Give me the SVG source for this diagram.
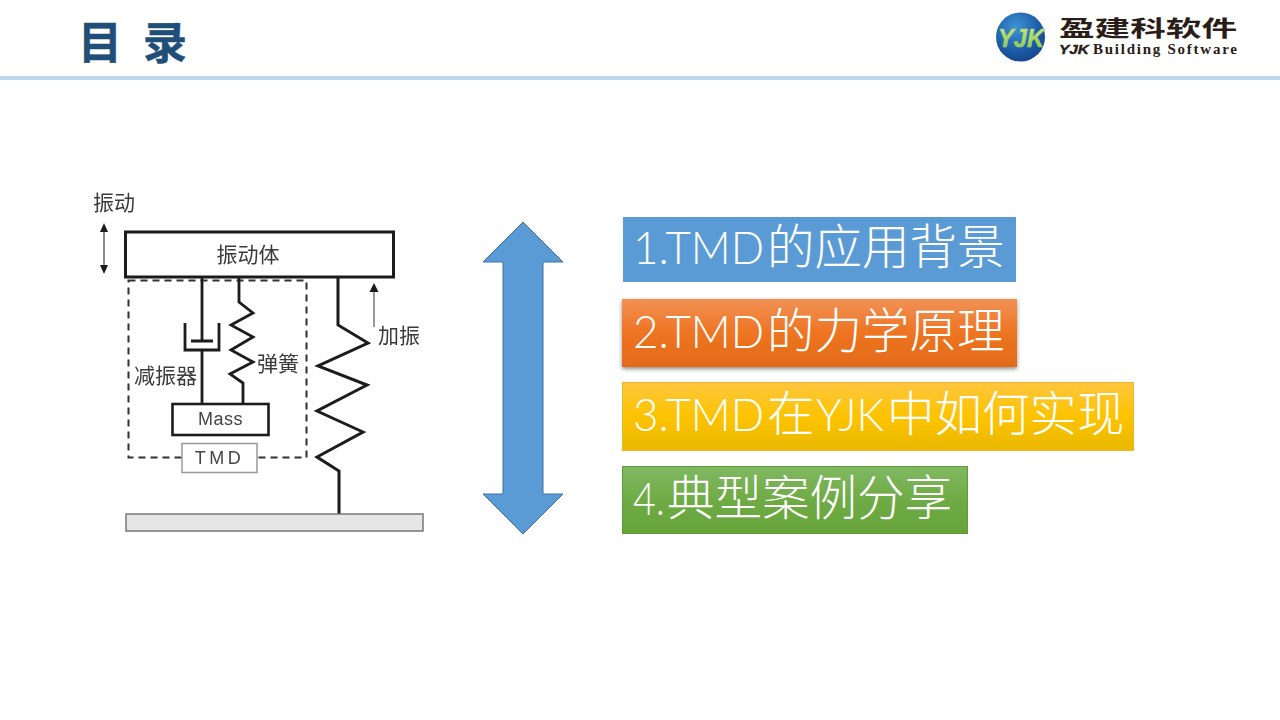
<svg xmlns="http://www.w3.org/2000/svg" width="1280" height="720" viewBox="0 0 1280 720">
<style>
text{font-family:"Liberation Sans","Noto Sans CJK SC",sans-serif}
.cjk{font-family:"Noto Sans CJK SC",sans-serif}
.serif{font-family:"Liberation Serif",serif}
.item{font-family:"Lato","Noto Sans CJK SC",sans-serif;font-weight:300;font-size:47.5px;fill:#fff}
.lat{font-size:46px}
.lbl{font-family:"Noto Sans CJK SC",sans-serif;font-size:21px;fill:#3a3a3a}
.k{fill:none;stroke:#1c1c1c;stroke-width:3;stroke-linejoin:miter}
.t{fill:none;stroke:#1c1c1c;stroke-width:2.800}
.d{fill:none;stroke:#333;stroke-width:2;stroke-dasharray:7 5}
</style>
<defs>
<linearGradient id="or" x1="0" y1="0" x2="0" y2="1"><stop offset="0" stop-color="#f19156"/><stop offset=".5" stop-color="#ee7421"/><stop offset="1" stop-color="#e26b19"/></linearGradient>
<linearGradient id="ye" x1="0" y1="0" x2="0" y2="1"><stop offset="0" stop-color="#fec63f"/><stop offset=".5" stop-color="#fdc300"/><stop offset="1" stop-color="#e9b800"/></linearGradient>
<linearGradient id="gr" x1="0" y1="0" x2="0" y2="1"><stop offset="0" stop-color="#81b862"/><stop offset=".5" stop-color="#6fab45"/><stop offset="1" stop-color="#66a43a"/></linearGradient>
<linearGradient id="yjk" x1="0" y1="0" x2="0" y2="1"><stop offset="0" stop-color="#d6e99b"/><stop offset="1" stop-color="#7fc241"/></linearGradient>
<radialGradient id="ball" cx=".4" cy=".3" r=".8"><stop offset="0" stop-color="#3f93d6"/><stop offset=".6" stop-color="#1b5ca8"/><stop offset="1" stop-color="#123f80"/></radialGradient>
<filter id="sh" x="-5%" y="-10%" width="110%" height="125%"><feDropShadow dx="0" dy="2" stdDeviation="2" flood-color="#000" flood-opacity=".45"/></filter>
<filter id="soft" x="-5%" y="-5%" width="110%" height="110%"><feGaussianBlur stdDeviation=".55"/></filter>
</defs>
<rect width="1280" height="720" fill="#fff"/>
<g id="header">
<text x="78" y="59" class="cjk" font-size="44" font-weight="700" fill="#1f4e79" stroke="#1f4e79" stroke-width=".5">目</text>
<text x="143" y="59" class="cjk" font-size="44" font-weight="700" fill="#1f4e79" stroke="#1f4e79" stroke-width=".5">录</text>
<rect x="0" y="76" width="1280" height="4" fill="#bdd7ee"/>
</g>
<g id="logo">
<circle cx="1020.500" cy="37" r="24.500" fill="url(#ball)"/>
<text x="998" y="47" font-size="26" font-weight="700" font-style="italic" fill="url(#yjk)" stroke="#a9d65c" stroke-width=".6" textLength="46" lengthAdjust="spacingAndGlyphs">YJK</text>
<text x="1059" y="36" class="cjk" font-size="22" font-weight="700" fill="#2a1c17" textLength="178" lengthAdjust="spacingAndGlyphs">盈建科软件</text>
<text x="1059" y="54" font-size="13" font-weight="700" font-style="italic" fill="#2a1c17" stroke="#2a1c17" stroke-width=".4" textLength="30" lengthAdjust="spacingAndGlyphs">YJK</text>
<text x="1093" y="54" class="serif" font-size="15" font-weight="700" fill="#2a1c17" textLength="144">Building Software</text>
</g>
<g id="tmd-figure" filter="url(#soft)">
<rect x="125.500" y="232" width="268" height="45" fill="#fff" stroke="#1c1c1c" stroke-width="3"/>
<text x="248" y="262" class="lbl" text-anchor="middle">振动体</text>
<text x="93" y="210" class="lbl">振动</text>
<text x="378" y="343" class="lbl">加振</text>
<text x="134" y="383" class="lbl">减振器</text>
<text x="257" y="371" class="lbl">弹簧</text>
<path d="M104 230V267" stroke="#666" stroke-width="1.500" fill="none"/>
<path d="M104 223l-4 9h8zM104 274l-4-9h8z" fill="#1c1c1c"/>
<path d="M374 290V327" stroke="#777" stroke-width="1.500" fill="none"/>
<path d="M374 283l-4.500 9h9z" fill="#1c1c1c"/>
<rect x="128.500" y="280.500" width="178" height="177" class="d"/>
<path d="M202 277V341M202 350V404M185 323V350H219V323M191 341H213" class="t"/>
<path d="M239 277V302L253 313L231 325L253 337L231 350L253 362L230 374L243 383V404" class="t"/>
<rect x="172.500" y="404" width="96" height="31" fill="#fff" stroke="#1c1c1c" stroke-width="2.600"/>
<text x="220.500" y="425" text-anchor="middle" font-size="18" fill="#444" letter-spacing=".5">Mass</text>
<rect x="182" y="443.500" width="75" height="29" fill="#fff" stroke="#999" stroke-width="1.500"/>
<text x="219.500" y="464" text-anchor="middle" font-size="18" fill="#444" letter-spacing="3.500">TMD</text>
<path d="M338 277V325L368 343L318 366L367 385L317 411L363 432L317 457L339 471V514" class="k"/>
<rect x="126" y="514" width="297" height="17" fill="#e6e6e6" stroke="#777" stroke-width="1.500"/>
</g>
<g id="double-arrow">
<path d="M523 222L563 262H543V494H563L523 534L483 494H503V262H483Z" fill="#5b9bd5" stroke="#41719c" stroke-width="1"/>
</g>
<g id="item-1">
<rect x="623" y="217" width="393" height="65" fill="#5b9bd5"/>
<text class="item lat" x="633" y="264" textLength="131" lengthAdjust="spacingAndGlyphs">1.TMD</text>
<text class="item" x="767" y="264">的应用背景</text>
</g>
<g id="item-2">
<rect x="622" y="299" width="395" height="68" fill="url(#or)" filter="url(#sh)"/>
<text class="item lat" x="633" y="348" textLength="131" lengthAdjust="spacingAndGlyphs">2.TMD</text>
<text class="item" x="767" y="348">的力学原理</text>
</g>
<g id="item-3">
<rect x="622.500" y="382.500" width="511" height="68" fill="url(#ye)" stroke="#f0b429" stroke-width="1"/>
<text class="item lat" x="633" y="431" textLength="131" lengthAdjust="spacingAndGlyphs">3.TMD</text>
<text class="item" x="767" y="431">在</text>
<text class="item lat" x="816" y="431" textLength="68" lengthAdjust="spacingAndGlyphs">YJK</text>
<text class="item" x="887" y="431">中如何实现</text>
</g>
<g id="item-4">
<rect x="622.500" y="466.500" width="345" height="67" fill="url(#gr)" stroke="#5e9c38" stroke-width="1"/>
<text class="item lat" x="633" y="515" textLength="32" lengthAdjust="spacingAndGlyphs">4.</text>
<text class="item" x="667" y="515">典型案例分享</text>
</g>
</svg>
